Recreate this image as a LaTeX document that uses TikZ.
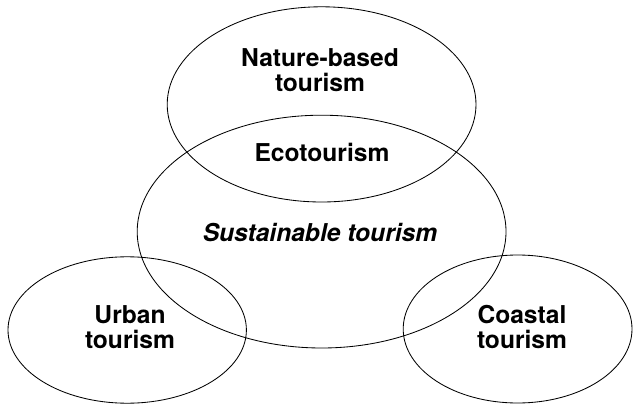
\documentclass[tikz,border=0pt]{standalone}
\usepackage{fontspec}
\setmainfont{TeX Gyre Heros}
\usepackage{tikz}

\begin{document}
\begin{tikzpicture}[line width=0.6pt]

\useasboundingbox (0,0) rectangle (15.85,10.1);

% Nature-based tourism — top ellipse
\draw (8.04,7.49) ellipse (3.86cm and 2.44cm);
\node[font=\fontsize{17.5}{18}\selectfont\bfseries, align=center] (nature) at (8.0,8.35) {Nature-based\\tourism};

% Sustainable tourism — large ellipse in the middle
\draw (8.04,4.31) ellipse (4.61cm and 2.91cm);
\node[font=\fontsize{17.5}{18}\selectfont\bfseries] (eco) at (8.05,6.28) {Ecotourism};
\node[font=\fontsize{17.5}{18}\selectfont\bfseries\itshape] (sustainable) at (8.0,4.28) {Sustainable tourism};

% Urban tourism — bottom left
\draw (3.18,1.85) ellipse (2.98cm and 1.83cm);
\node[font=\fontsize{17.5}{18}\selectfont\bfseries, align=center] (urban) at (3.25,1.93) {Urban\\tourism};

% Coastal tourism — bottom right
\draw (12.94,1.875) ellipse (2.86cm and 1.85cm);
\node[font=\fontsize{17.5}{18}\selectfont\bfseries, align=center] (coastal) at (13.05,1.93) {Coastal\\tourism};

\end{tikzpicture}
\end{document}
